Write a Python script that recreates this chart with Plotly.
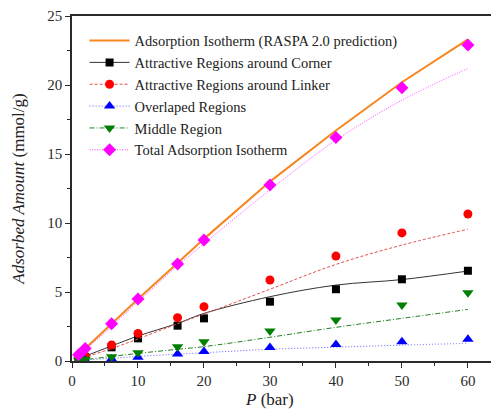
import plotly.graph_objects as go

P = [1, 2, 6, 10, 16, 20, 30, 40, 50, 60]

raspa_line = [0.45, 0.9, 2.7, 4.5, 7.1, 8.85, 13.0, 16.7, 20.2, 23.3]

corner_pts = [0.15, 0.3, 0.99, 1.64, 2.56, 3.09, 4.3, 5.2, 5.92, 6.54]
corner_fit = [0.15, 0.35, 1.09, 1.81, 2.73, 3.45, 4.66, 5.5, 5.9, 6.52]

linker_pts = [0.15, 0.35, 1.16, 2.0, 3.14, 3.94, 5.87, 7.6, 9.28, 10.65]
linker_fit = [0.12, 0.28, 0.9, 1.6, 2.7, 3.4, 5.2, 7.0, 8.4, 9.55]

overlap_pts = [0.02, 0.05, 0.15, 0.27, 0.5, 0.68, 0.97, 1.2, 1.4, 1.57]
overlap_fit = [0.03, 0.07, 0.2, 0.33, 0.5, 0.6, 0.85, 1.0, 1.15, 1.28]

middle_pts = [0.05, 0.12, 0.31, 0.6, 1.04, 1.4, 2.17, 2.97, 4.06, 4.95]
middle_fit = [0.05, 0.1, 0.33, 0.55, 0.85, 1.04, 1.72, 2.44, 3.09, 3.74]

total_pts = [0.45, 0.9, 2.7, 4.5, 7.03, 8.77, 12.75, 16.2, 19.8, 22.9]
total_fit = [0.35, 0.8, 2.5, 4.3, 6.9, 8.5, 12.4, 16.0, 18.9, 21.2]

FONT = "Liberation Serif, 'Times New Roman', serif"
AX = "#2a2a2a"

fig = go.Figure()

fig.add_trace(go.Scatter(x=P, y=raspa_line, mode="lines", line=dict(color="#F7861E", width=2),
                         name="Adsorption Isotherm (RASPA 2.0 prediction)"))

series = [
    ("Attractive Regions around Corner", corner_pts, corner_fit, "black", "#333333", "solid", "square", 8),
    ("Attractive Regions around Linker", linker_pts, linker_fit, "#FF0000", "#E05050", "3px,2px", "circle", 9),
    ("Overlaped Regions", overlap_pts, overlap_fit, "#0000FF", "#6060FF", "1px,2px", "triangle-up", 10),
    ("Middle Region", middle_pts, middle_fit, "#008000", "#208020", "5px,2px,1px,2px", "triangle-down", 10),
    ("Total Adsorption Isotherm", total_pts, total_fit, "#FF00FF", "#FF40FF", "1px,1.5px", "diamond", 10),
]

for name, pts, fit, mc, lc, dash, sym, sz in series:
    fig.add_trace(go.Scatter(x=P, y=fit, mode="lines", line=dict(color=lc, width=1, dash=dash, shape="spline"),
                             showlegend=False, hoverinfo="skip", legendgroup=name))
    fig.add_trace(go.Scatter(x=P, y=pts, mode="markers", showlegend=False, legendgroup=name,
                             marker=dict(color=mc, symbol=sym, size=sz)))
    # legend-only entry showing marker and line sample
    fig.add_trace(go.Scatter(x=[None], y=[None], mode="markers+lines", name=name, legendgroup=name,
                             marker=dict(color=mc, symbol=sym, size=sz),
                             line=dict(color=lc, width=1, dash=dash)))

fig.update_layout(
    width=491, height=414,
    margin=dict(l=72, r=0, t=16, b=53),
    plot_bgcolor="white", paper_bgcolor="white",
    font=dict(family=FONT, size=15, color=AX),
    showlegend=True,
    legend=dict(x=0.03, y=0.975, xanchor="left", yanchor="top", bgcolor="rgba(0,0,0,0)",
                font=dict(family=FONT, size=14.5, color="#222222"), tracegroupgap=0,
                itemwidth=40),
)

fig.update_xaxes(range=[0, 63.5], showgrid=False, zeroline=False, showline=True, linecolor=AX,
                 linewidth=1.5, mirror=True, ticks="outside", ticklen=5, tickcolor=AX, dtick=10,
                 tick0=0, minor=dict(ticks="outside", ticklen=3, dtick=5, tickcolor=AX),
                 tickfont=dict(family=FONT, size=15, color=AX))
fig.update_yaxes(range=[0, 25], showgrid=False, zeroline=False, showline=True, linecolor=AX,
                 linewidth=1.5, ticks="outside", ticklen=5, tickcolor=AX, dtick=5, tick0=0,
                 minor=dict(ticks="outside", ticklen=3, dtick=2.5, tickcolor=AX),
                 tickfont=dict(family=FONT, size=15, color=AX),
                 title=dict(text="<i>Adsorbed Amount</i> (mmol/g)", font=dict(family=FONT, size=17, color="#222222"),
                            standoff=18))

fig.add_annotation(x=30, y=0, xref="x", yref="paper", yshift=-38, text="<i>P</i> (bar)", showarrow=False,
                   font=dict(family=FONT, size=17, color="#222222"), yanchor="middle")

fig.write_html("out.html")
